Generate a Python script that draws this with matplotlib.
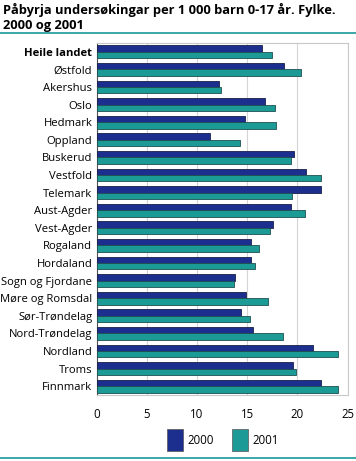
import matplotlib
matplotlib.use("Agg")
import matplotlib.pyplot as plt
import numpy as np
from matplotlib.patches import Rectangle
from matplotlib.lines import Line2D

categories = ["Heile landet", "Østfold", "Akershus", "Oslo", "Hedmark", "Oppland",
              "Buskerud", "Vestfold", "Telemark", "Aust-Agder", "Vest-Agder",
              "Rogaland", "Hordaland", "Sogn og Fjordane", "Møre og Romsdal",
              "Sør-Trøndelag", "Nord-Trøndelag", "Nordland", "Troms", "Finnmark"]
v2000 = [16.5, 18.7, 12.2, 16.8, 14.8, 11.3, 19.7, 20.9, 22.4, 19.4, 17.6,
         15.4, 15.4, 13.8, 14.9, 14.4, 15.6, 21.6, 19.6, 22.4]
v2001 = [17.5, 20.4, 12.4, 17.8, 17.9, 14.3, 19.4, 22.4, 19.5, 20.8, 17.3,
         16.2, 15.8, 13.7, 17.1, 15.3, 18.6, 24.1, 19.9, 24.1]
series = ["2000", "2001"]
xticks = [0, 5, 10, 15, 20, 25]
title = "Påbyrja undersøkingar per 1 000 barn 0-17 år. Fylke.\n2000 og 2001"

c2000 = "#1c2f8e"
c2001 = "#1b9a96"
teal_line = "#1a9a9a"

W, H = 356, 461
fig = plt.figure(figsize=(W / 100, H / 100), dpi=100)
plt.rcParams['font.family'] = ['Open Sans', 'DejaVu Sans']

ax = fig.add_axes([96.5 / W, 1 - 395 / H, (347.5 - 96.5) / W, (395 - 43) / H])
n = len(categories)
y = np.arange(n)
bh = 0.36
ax.barh(y - bh / 2, v2000, height=bh, color=c2000, edgecolor="#1a1f4a", linewidth=0.6, zorder=3)
ax.barh(y + bh / 2, v2001, height=bh, color=c2001, edgecolor="#1f4f50", linewidth=0.6, zorder=3)
ax.set_ylim(n - 0.5, -0.5)
ax.set_xlim(0, 25)
ax.set_xticks(xticks)
ax.set_xticklabels([str(t) for t in xticks], fontsize=8.3)
ax.set_yticks(y)
ax.set_yticklabels(categories, fontsize=8.1)
ax.get_yticklabels()[0].set_fontweight("bold")
ax.tick_params(axis="both", length=0, pad=3)
ax.tick_params(axis="x", pad=9)
ax.grid(axis="x", color="#d4d4d4", linewidth=0.8, zorder=0)
for s in ax.spines.values():
    s.set_color("#c8c8c8")
    s.set_linewidth(0.8)
ax.spines["left"].set_color("#555555")

fig.text(3 / W, 1 - 3 / H, title, fontsize=9.3, fontweight="bold", va="top", ha="left",
         linespacing=1.15)
fig.add_artist(Line2D([0, 1], [1 - 33.5 / H, 1 - 33.5 / H], color=teal_line, linewidth=1.2))
fig.add_artist(Line2D([0, 1], [1 - 457.5 / H, 1 - 457.5 / H], color=teal_line, linewidth=1.2))

# legend
for x0, col, lab in [(167, c2000, series[0]), (232.5, c2001, series[1])]:
    fig.add_artist(Rectangle((x0 / W, 1 - 451 / H), 16 / W, 22 / H, facecolor=col,
                             edgecolor="#555555", linewidth=0.5, transform=fig.transFigure))
    fig.text((x0 + 20) / W, 1 - 440 / H, lab, fontsize=8.3, va="center", ha="left")

fig.savefig("out.png", dpi=100)
